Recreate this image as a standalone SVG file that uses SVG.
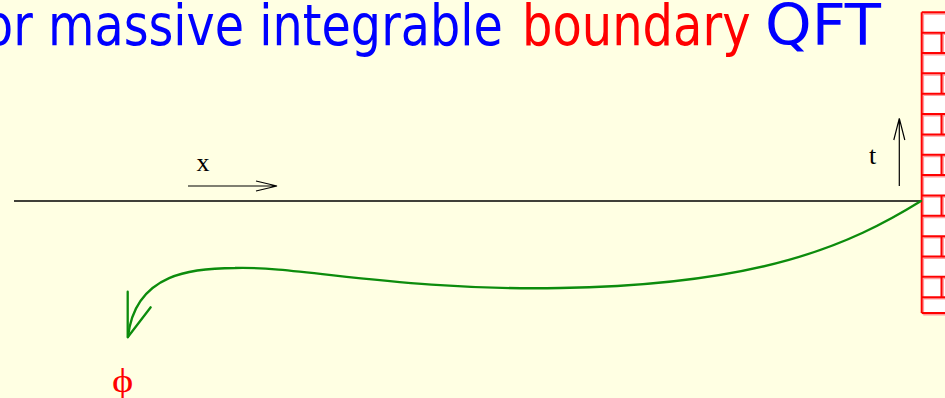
<svg xmlns="http://www.w3.org/2000/svg" xmlns:xlink="http://www.w3.org/1999/xlink" width="945" height="398" viewBox="0 0 945 398">
  <defs>
    <style>
      .title { font-family: "DejaVu Sans", "Liberation Sans", sans-serif; font-size: 57px; }
      .blue { fill: #0000ff; }
      .red { fill: #ff0000; }
      .lbl { font-family: "Liberation Serif", "Times New Roman", serif; font-size: 26px; fill: #000; }
      .axis { stroke: #000; stroke-width: 1.3; fill: none; }
      .arr { stroke: #000; stroke-width: 1.2; fill: none; }
      .brick { stroke: #ff0000; stroke-width: 2; fill: none; }
      .brickhalo { stroke: #ff9c9c; stroke-width: 1.6; fill: none; }
      .green { stroke: #0c8c0c; stroke-width: 2.3; fill: none; stroke-linecap: round; stroke-linejoin: round; }
    </style>
    <path id="wallLines" d="M921.7,12.3 V313
      M921.7,12.3 H945 M921.7,32.65 H945 M921.7,53 H945 M921.7,73.35 H945 M921.7,93.7 H945
      M921.7,114.05 H945 M921.7,134.4 H945 M921.7,154.75 H945 M921.7,175.1 H945 M921.7,195.45 H945
      M921.7,215.8 H945 M921.7,236.15 H945 M921.7,256.5 H945 M921.7,276.85 H945 M921.7,297.2 H945 M921.7,313 H945
      M941.5,32.65 V53 M941.5,73.35 V93.7 M941.5,114.05 V134.4 M941.5,154.75 V175.1
      M941.5,195.45 V215.8 M941.5,236.15 V256.5 M941.5,276.85 V297.2"/>
  </defs>

  <rect x="0" y="0" width="945" height="398" fill="#ffffe3"/>

  <g id="title">
    <text class="title blue" transform="translate(-16,45) scale(0.837,1)">or massive integrable</text>
    <text class="title red" transform="translate(522,45) scale(0.842,1)">boundary</text>
    <text class="title blue" transform="translate(765,45) scale(1.04,1)">QFT</text>
  </g>

  <g id="wall">
    <rect x="921.7" y="12.3" width="24" height="300.7" fill="#ffffff"/>
    <use xlink:href="#wallLines" class="brickhalo" transform="translate(1.6,1.6)"/>
    <use xlink:href="#wallLines" class="brick"/>
  </g>

  <g id="axis">
    <line class="axis" x1="14" y1="201" x2="921.7" y2="201"/>
  </g>

  <g id="x-direction">
    <path class="arr" d="M188,186 H277 M256,181 L277,186 L256,191"/>
    <text class="lbl" x="203" y="171" text-anchor="middle">x</text>
  </g>

  <g id="t-direction">
    <path class="arr" d="M899.3,186 V118.3 M893.8,140 L899.3,118.3 L904.8,140"/>
    <text class="lbl" x="872.5" y="164" text-anchor="middle">t</text>
  </g>

  <g id="connectors">
    <path class="green" d="M921,201 C850,245 760,285 560,288 C400,291 300,266 235,268 C195,268 135,272 128,337"/>
    <path class="green" d="M127.7,291.7 L127.7,337.3 L150.7,307.3"/>
  </g>

  <g id="phi">
    <text x="122.7" y="392" text-anchor="middle" font-family="Liberation Serif, 'DejaVu Serif', serif" font-size="30" fill="#ff0000" transform="translate(122.7,392) scale(1.35,1.1) translate(-122.7,-392)">ϕ</text>
  </g>
</svg>
